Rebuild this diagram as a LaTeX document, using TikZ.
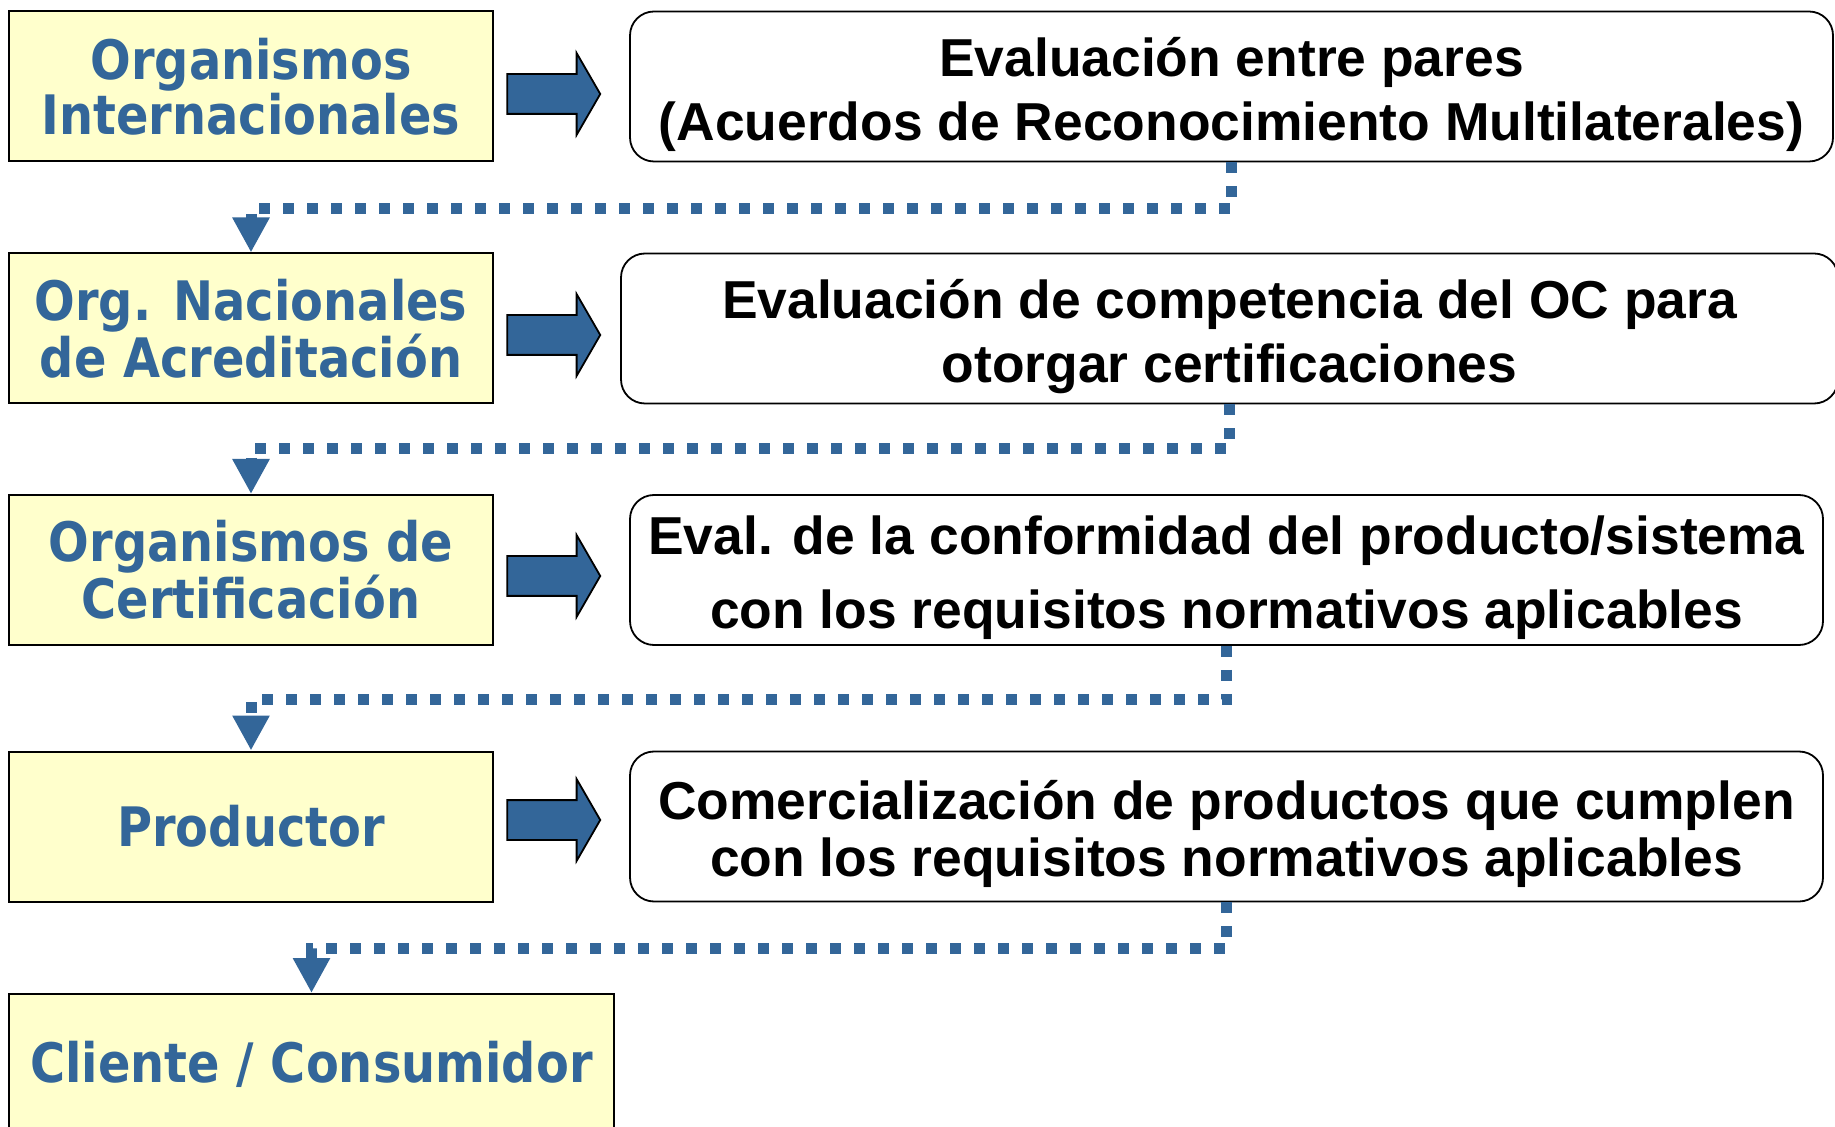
\documentclass[tikz,border=0pt]{standalone}
\usepackage{fontspec}
\setmainfont{Liberation Sans}
\newfontfamily\orgfont{DejaVu Sans}[FakeStretch=0.88]
\usetikzlibrary{shapes.arrows,arrows.meta}
\definecolor{orgblue}{RGB}{51,102,153}
\definecolor{orgyellow}{RGB}{255,255,204}
\newcommand{\hiline}{\rule{0pt}{28.6pt}}
\newcommand{\loline}{\rule[-7pt]{0pt}{7pt}}

\begin{document}
\begin{tikzpicture}[x=0.5pt,y=-0.5pt,
    orgbox/.style={draw=black,line width=1pt,fill=orgyellow,text=orgblue,
      minimum width=242pt,minimum height=75pt,align=center,inner sep=0pt,
      font=\orgfont\bfseries\fontsize{27.2}{27.5}\selectfont},
    evalbox/.style={draw=black,line width=0.9pt,rounded corners=12pt,fill=white,
      minimum height=75pt,align=center,inner sep=0pt,
      font=\bfseries\fontsize{26.7}{28.5}\selectfont},
    blockarrow/.style={single arrow,draw=black,line width=0.9pt,fill=orgblue,
      minimum height=46.5pt,single arrow head extend=10.5pt,
      single arrow tip angle=120,inner xsep=0pt,inner ysep=9.5pt},
    dotline/.style={orgblue,line width=5.5pt,dash pattern=on 5.5pt off 6.5pt,
      -{Triangle[width=17.5pt,length=17.5pt]}}]

    % Page
    \fill[white] (0,0) rectangle (1835,1127);
    \useasboundingbox (0,0) rectangle (1835,1127);

    % Left column
    \node[orgbox] (oi) at (251,86.5) {Organismos\\Internacionales};
    \node[orgbox] (ona) at (251,328.5) {Org. Nacionales\\de Acreditación};
    \node[orgbox] (oc) at (251,570) {Organismos de\\Certificación};
    \node[orgbox] (prod) at (251,826.5) {Productor};
    \node[orgbox,minimum width=302.5pt,minimum height=70pt] (cli) at (311.5,1064) {Cliente / Consumidor};

    % Right column
    \node[evalbox,minimum width=601.5pt] (epares) at (1231.5,86.5)
      {\hiline Evaluación entre pares\\[3.5pt](Acuerdos de Reconocimiento Multilaterales)\loline};
    \node[evalbox,minimum width=608.5pt] (ecomp) at (1229.5,328.5)
      {\hiline Evaluación de competencia del OC para\\[3.5pt]otorgar certificaciones\loline};
    \node[evalbox,minimum width=596.5pt] (econf) at (1226.5,570)
      {\hiline Eval. de la conformidad del producto/sistema\\[8.5pt]con los requisitos normativos aplicables\loline};
    \node[evalbox,minimum width=596.5pt] (ecom) at (1226.5,826.5)
      {\hiline Comercialización de productos que cumplen\\con los requisitos normativos aplicables\loline};

    % Block arrows
    \node[blockarrow] (f1) at (548,94) {};
    \node[blockarrow] (f2) at (548,335) {};
    \node[blockarrow] (f3) at (548,576) {};
    \node[blockarrow] (f4) at (548,820) {};

    % Dotted links
    \draw[dotline] (epares.south) -- ++(0,46) -| (ona.north);
    \draw[dotline] (ecomp.south) -- ++(0,44) -| (oc.north);
    \draw[dotline] (econf.south) -- ++(0,54) -| (prod.north);
    \draw[dotline] (ecom.south) -- ++(0,46) -| (cli.north);
\end{tikzpicture}
\end{document}
